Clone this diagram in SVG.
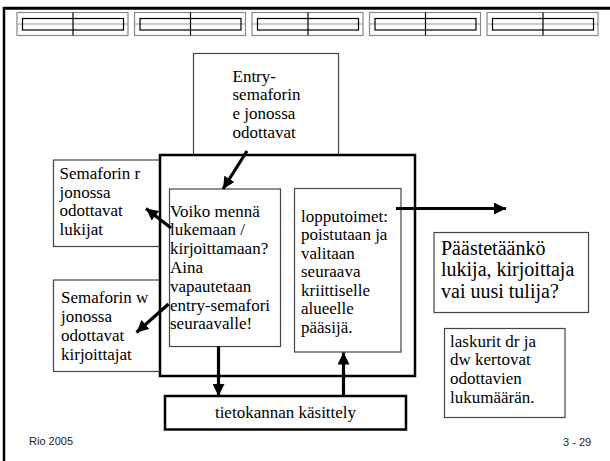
<svg xmlns="http://www.w3.org/2000/svg" width="610" height="461" viewBox="0 0 610 461">
<style>
.t{font-family:'Liberation Serif','Times New Roman',Tinos,'DejaVu Serif',serif;font-size:17px;fill:#000}
.big{font-size:20px}
.s{font-family:'Liberation Sans',Arial,sans-serif;font-size:11px;fill:#222}
.thin{fill:#fff;stroke:#444;stroke-width:1.2}
.thick{fill:#fff;stroke:#000;stroke-width:2.5}
.hdo{fill:none;stroke:#888;stroke-width:1.2}
.hdi{fill:none;stroke:#000;stroke-width:1.2}
.hdm{stroke:#999;stroke-width:1}
.arr{stroke:#000;stroke-width:3.2;fill:none;marker-end:url(#ah)}
</style>
<defs>
<marker id="ah" markerUnits="userSpaceOnUse" markerWidth="14" markerHeight="12" refX="12" refY="6" orient="auto">
<path d="M0,0 L12,6 L0,12 Z" fill="#000"/>
</marker>
<g id="hblock">
<rect class="hdo" x="0" y="12.5" width="111" height="23"/>
<line class="hdm" x1="0" y1="24" x2="111" y2="24"/>
<rect class="hdi" x="5.5" y="18.5" width="101" height="11.5"/>
<line x1="56" y1="12.5" x2="56" y2="35.5" stroke="#000" stroke-width="1.2"/>
</g>
</defs>
<rect width="610" height="461" fill="#fff"/>
<g id="frame">
<line x1="3" y1="8.3" x2="610" y2="8.3" stroke="#000" stroke-width="3"/>
<line x1="4" y1="7" x2="4" y2="461" stroke="#000" stroke-width="2.5"/>
<use href="#hblock" x="17"/>
<use href="#hblock" x="134.5"/>
<use href="#hblock" x="252"/>
<use href="#hblock" x="369.5"/>
<use href="#hblock" x="487"/>
</g>
<g id="sem-r">
<rect class="thin" x="53.5" y="160" width="110" height="86.5"/>
<text class="t" font-family="Liberation Serif, serif"><tspan x="59.5" y="179">Semaforin r</tspan><tspan x="59.5" y="197.5">jonossa</tspan><tspan x="59.5" y="216">odottavat</tspan><tspan x="59.5" y="234.5">lukijat</tspan></text>
</g>
<g id="sem-w">
<rect class="thin" x="53.5" y="280" width="110" height="91.5"/>
<text class="t"><tspan x="61" y="303">Semaforin w</tspan><tspan x="61" y="322">jonossa</tspan><tspan x="61" y="341">odottavat</tspan><tspan x="61" y="360">kirjoittajat</tspan></text>
</g>
<g id="entry">
<rect class="thin" x="193.5" y="53.5" width="145" height="102"/>
<text class="t"><tspan x="232.5" y="81.5">Entry-</tspan><tspan x="232.5" y="100.2">semaforin</tspan><tspan x="232.5" y="118.9">e jonossa</tspan><tspan x="232.5" y="137.6">odottavat</tspan></text>
</g>
<g id="monitor">
<rect class="thick" x="160" y="155" width="255" height="221"/>
</g>
<g id="voiko">
<rect class="thin" x="169.5" y="189" width="111" height="157.5"/>
<text class="t"><tspan x="170" y="216.5">Voiko mennä</tspan><tspan x="170" y="235.3">lukemaan /</tspan><tspan x="170" y="254.1">kirjoittamaan?</tspan><tspan x="170" y="272.9">Aina</tspan><tspan x="170" y="291.7">vapautetaan</tspan><tspan x="170" y="310.5">entry-semafori</tspan><tspan x="170" y="329.3">seuraavalle!</tspan></text>
</g>
<g id="loppu">
<rect class="thin" x="294.5" y="188.5" width="106.5" height="163.5"/>
<text class="t"><tspan x="301" y="221.5">lopputoimet:</tspan><tspan x="301" y="240">poistutaan ja</tspan><tspan x="301" y="258.5">valitaan</tspan><tspan x="301" y="277">seuraava</tspan><tspan x="301" y="295.5">kriittiselle</tspan><tspan x="301" y="314">alueelle</tspan><tspan x="301" y="332.5">pääsijä.</tspan></text>
</g>
<g id="db">
<rect class="thick" x="165" y="396" width="241" height="33.5"/>
<text class="t" x="285.5" y="418" text-anchor="middle">tietokannan käsittely</text>
</g>
<g id="question">
<rect class="thin" x="434" y="232.5" width="154.5" height="80"/>
<text class="t big"><tspan x="441" y="254.5">Päästetäänkö</tspan><tspan x="441" y="276">lukija, kirjoittaja</tspan><tspan x="441" y="297.5">vai uusi tulija?</tspan></text>
</g>
<g id="counters">
<rect class="thin" x="444.5" y="328.5" width="120.5" height="89"/>
<text class="t"><tspan x="450" y="346.5">laskurit dr ja</tspan><tspan x="450" y="365.2">dw kertovat</tspan><tspan x="450" y="383.9">odottavien</tspan><tspan x="450" y="402.6">lukumäärän.</tspan></text>
</g>
<g id="connectors">
<line class="arr" x1="247" y1="151" x2="223" y2="189"/>
<line class="arr" x1="171" y1="228" x2="146" y2="208.5"/>
<line class="arr" x1="168.5" y1="304" x2="136.5" y2="332.5"/>
<line class="arr" x1="218.5" y1="346.5" x2="218.5" y2="396"/>
<line class="arr" x1="343.5" y1="396" x2="343.5" y2="352.5"/>
<line class="arr" x1="396" y1="208.5" x2="506" y2="208.5"/>
</g>
<g id="footer">
<text class="s" x="29" y="445">Rio 2005</text>
<text class="s" x="563" y="446">3 - 29</text>
</g>
</svg>
